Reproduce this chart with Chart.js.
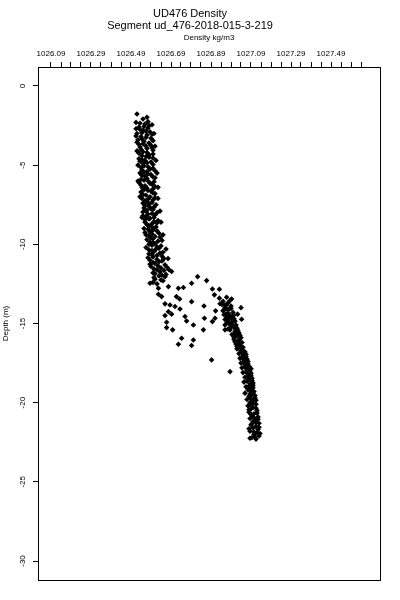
<!DOCTYPE html>
<html lang="en">
<head>
    <meta charset="UTF-8" />
    <meta name="viewport" content="width=device-width, initial-scale=1.0" />
    <script src="https://cdn.jsdelivr.net/npm/chart.js"></script>
    <title>UD476 Density</title>
    <style>
        body {
            margin: 0;
            background: white;
        }
        canvas {
            display: block;
        }
    </style>
</head>
<body>
<canvas id="myChart" width="400" height="600"></canvas>

<script>
    // [depth (m), density (kg/m3)]
    const upperColumn = [
        [-1.77, 1026.52], [-2.08, 1026.55], [-1.97, 1026.57],
        [-2.3, 1026.515], [-2.4, 1026.56], [-2.5, 1026.58], [-2.6, 1026.53], [-2.7, 1026.515],
        [-2.8, 1026.55], [-2.9, 1026.585], [-3.0, 1026.52], [-3.1, 1026.57], [-3.2, 1026.54],
        [-3.3, 1026.59], [-3.4, 1026.525], [-3.5, 1026.555], [-3.6, 1026.58], [-3.7, 1026.53],
        [-3.8, 1026.565], [-3.9, 1026.595], [-4.0, 1026.54], [-4.1, 1026.52], [-4.2, 1026.57],
        [-4.3, 1026.60], [-4.4, 1026.545], [-4.5, 1026.58], [-4.6, 1026.53], [-4.7, 1026.56],
        [-4.8, 1026.59], [-4.9, 1026.55], [-5.0, 1026.525], [-5.1, 1026.575], [-5.2, 1026.60],
        [-5.3, 1026.545], [-5.4, 1026.57], [-5.5, 1026.535], [-5.6, 1026.59], [-5.7, 1026.56],
        [-5.8, 1026.61], [-5.9, 1026.54], [-6.0, 1026.575], [-6.1, 1026.53], [-6.2, 1026.595],
        [-6.3, 1026.56], [-6.4, 1026.545], [-6.5, 1026.60], [-6.6, 1026.575], [-6.7, 1026.54],
        [-6.8, 1026.61], [-6.9, 1026.565], [-7.0, 1026.585], [-7.1, 1026.545], [-7.2, 1026.60],
        [-7.3, 1026.57], [-7.4, 1026.55], [-7.5, 1026.615], [-7.6, 1026.58], [-7.7, 1026.555],
        [-7.8, 1026.60], [-7.9, 1026.565], [-8.0, 1026.62], [-8.1, 1026.575], [-8.2, 1026.55],
        [-8.3, 1026.605], [-8.4, 1026.58], [-8.5, 1026.625], [-8.6, 1026.56], [-8.7, 1026.595],
        [-8.8, 1026.575], [-8.9, 1026.615], [-9.0, 1026.555], [-9.1, 1026.60], [-9.2, 1026.585],
        [-9.3, 1026.63], [-9.4, 1026.565], [-9.5, 1026.61], [-9.6, 1026.59], [-9.7, 1026.57],
        [-9.8, 1026.625], [-9.9, 1026.60], [-10.0, 1026.58], [-10.1, 1026.64], [-10.2, 1026.565],
        [-10.3, 1026.615], [-10.4, 1026.595], [-10.5, 1026.65], [-10.6, 1026.58], [-10.7, 1026.62],
        [-10.8, 1026.60], [-10.9, 1026.655], [-11.0, 1026.585], [-11.1, 1026.63], [-11.2, 1026.61],
        [-11.3, 1026.66], [-11.4, 1026.59], [-11.5, 1026.64], [-11.6, 1026.62], [-11.8, 1026.60],
        [-11.9, 1026.665], [-12.0, 1026.63], [-12.2, 1026.61], [-12.3, 1026.65], [-12.5, 1026.62],
        [-2.25, 1026.575], [-2.35, 1026.535], [-2.45, 1026.595], [-2.55, 1026.555], [-2.65, 1026.575],
        [-2.75, 1026.535], [-2.85, 1026.565], [-2.95, 1026.545], [-3.05, 1026.595], [-3.15, 1026.515],
        [-3.25, 1026.565], [-3.35, 1026.545], [-3.45, 1026.60], [-3.55, 1026.52], [-3.65, 1026.55],
        [-3.75, 1026.59], [-3.85, 1026.535], [-3.95, 1026.57], [-4.05, 1026.60], [-4.15, 1026.55],
        [-4.25, 1026.53], [-4.35, 1026.58], [-4.45, 1026.565], [-4.55, 1026.60], [-4.65, 1026.545],
        [-4.75, 1026.535], [-4.85, 1026.57], [-4.95, 1026.60], [-5.05, 1026.555], [-5.15, 1026.54],
        [-5.25, 1026.585], [-5.35, 1026.61], [-5.45, 1026.555], [-5.55, 1026.575], [-5.65, 1026.545],
        [-5.75, 1026.60], [-5.85, 1026.57], [-5.95, 1026.555], [-6.05, 1026.605], [-6.15, 1026.585],
        [-6.25, 1026.54], [-6.35, 1026.61], [-6.45, 1026.57], [-6.55, 1026.555], [-6.65, 1026.59],
        [-6.75, 1026.60], [-6.85, 1026.55], [-6.95, 1026.54], [-7.05, 1026.61], [-7.15, 1026.575],
        [-7.25, 1026.56], [-7.35, 1026.595], [-7.45, 1026.58], [-7.55, 1026.56], [-7.65, 1026.605],
        [-7.75, 1026.59], [-7.85, 1026.57], [-7.95, 1026.55], [-8.05, 1026.595], [-8.15, 1026.61],
        [-8.25, 1026.565], [-8.35, 1026.585], [-8.45, 1026.56], [-8.55, 1026.605], [-8.65, 1026.62],
        [-8.75, 1026.57], [-8.85, 1026.585], [-8.95, 1026.60], [-9.05, 1026.575], [-9.15, 1026.62],
        [-9.25, 1026.56], [-9.35, 1026.595], [-9.45, 1026.58], [-9.55, 1026.635], [-9.65, 1026.60],
        [-9.75, 1026.645], [-9.85, 1026.585], [-9.95, 1026.61], [-10.05, 1026.595], [-10.15, 1026.62],
        [-10.25, 1026.63], [-10.35, 1026.58], [-10.45, 1026.605], [-10.55, 1026.635], [-10.65, 1026.595],
        [-10.75, 1026.645], [-10.85, 1026.575], [-10.95, 1026.62], [-11.05, 1026.645], [-11.15, 1026.60],
        [-11.25, 1026.585], [-11.35, 1026.625], [-11.45, 1026.67], [-11.55, 1026.605], [-11.65, 1026.655],
        [-11.75, 1026.635], [-11.85, 1026.61], [-11.95, 1026.645], [-12.1, 1026.605], [-12.25, 1026.64],
        [-12.4, 1026.60],
        [-3.0, 1026.605], [-3.8, 1026.61], [-4.7, 1026.615], [-5.5, 1026.62], [-6.4, 1026.625],
        [-7.1, 1026.625], [-7.9, 1026.635], [-8.6, 1026.64], [-9.4, 1026.65], [-10.3, 1026.665],
        [-10.9, 1026.675], [-11.6, 1026.68], [-6.0, 1026.525], [-7.0, 1026.535], [-8.3, 1026.545]
    ];

    const mixedLayer = [
        [-11.72, 1026.693], [-12.04, 1026.66], [-12.46, 1026.585], [-12.04, 1026.823], [-12.46, 1026.793],
        [-12.29, 1026.868], [-12.73, 1026.752], [-12.77, 1026.727], [-12.67, 1026.677], [-12.77, 1026.627],
        [-12.82, 1026.897], [-12.84, 1026.932], [-13.19, 1026.907], [-13.40, 1026.932], [-13.34, 1026.968],
        [-13.45, 1026.993], [-13.30, 1026.643], [-13.15, 1026.627], [-13.30, 1026.717], [-13.45, 1026.733],
        [-13.76, 1026.66], [-13.83, 1026.685], [-13.93, 1026.71], [-13.62, 1026.793], [-13.89, 1026.855],
        [-13.83, 1026.96], [-14.08, 1026.97], [-14.20, 1026.913], [-14.0, 1027.04], [-14.08, 1026.735],
        [-14.25, 1026.677], [-14.50, 1026.66], [-14.41, 1026.693], [-14.56, 1026.76], [-14.84, 1026.768],
        [-14.67, 1026.857], [-14.88, 1026.897], [-14.67, 1026.91], [-14.50, 1027.002], [-14.41, 1027.023],
        [-14.73, 1027.043], [-14.92, 1026.668], [-15.09, 1026.802], [-15.40, 1026.852], [-15.26, 1026.668],
        [-15.40, 1026.698], [-15.09, 1026.96], [-15.40, 1026.96], [-15.93, 1026.743], [-16.31, 1026.727],
        [-16.04, 1026.802], [-16.39, 1026.793], [-17.30, 1026.893], [-18.04, 1026.985]
    ];

    const lowerColumn = [
        [-13.6, 1026.95], [-13.7, 1026.975], [-13.8, 1026.945], [-13.9, 1026.99], [-14.0, 1026.96],
        [-14.1, 1026.98], [-14.2, 1026.95], [-14.3, 1027.0], [-14.4, 1026.965], [-14.5, 1026.985],
        [-14.6, 1026.97], [-14.7, 1027.005], [-14.8, 1026.975], [-14.9, 1026.995], [-15.0, 1026.98],
        [-15.1, 1027.015], [-15.2, 1026.99], [-15.3, 1027.02], [-15.4, 1026.985], [-15.5, 1027.01],
        [-15.6, 1027.03], [-15.7, 1026.995], [-15.8, 1027.02], [-15.9, 1027.04], [-16.0, 1027.005],
        [-16.1, 1027.025], [-16.2, 1027.045], [-16.3, 1027.015], [-16.4, 1027.035], [-16.5, 1027.05],
        [-16.6, 1027.02], [-16.7, 1027.04], [-16.8, 1027.06], [-16.9, 1027.03], [-17.0, 1027.05],
        [-17.1, 1027.065], [-17.2, 1027.035], [-17.3, 1027.055], [-17.4, 1027.075], [-17.5, 1027.04],
        [-17.6, 1027.06], [-17.7, 1027.08], [-17.8, 1027.045], [-17.9, 1027.07], [-18.0, 1027.085],
        [-18.1, 1027.05], [-18.2, 1027.075], [-18.3, 1027.09], [-18.4, 1027.06], [-18.5, 1027.08],
        [-18.6, 1027.095], [-18.7, 1027.055], [-18.8, 1027.085], [-18.9, 1027.1], [-19.0, 1027.065],
        [-19.1, 1027.09], [-19.2, 1027.075], [-19.3, 1027.105], [-19.4, 1027.06], [-19.5, 1027.095],
        [-19.6, 1027.08], [-19.7, 1027.11], [-19.8, 1027.07], [-19.9, 1027.1], [-20.0, 1027.085],
        [-20.1, 1027.115], [-20.2, 1027.075], [-20.3, 1027.1], [-20.4, 1027.09], [-20.5, 1027.12],
        [-20.6, 1027.08], [-20.7, 1027.105], [-20.8, 1027.095], [-20.9, 1027.125], [-21.0, 1027.085],
        [-21.1, 1027.11], [-21.2, 1027.1], [-21.3, 1027.13], [-21.4, 1027.09], [-21.5, 1027.115],
        [-21.6, 1027.1], [-21.7, 1027.125], [-21.8, 1027.085], [-21.9, 1027.12], [-22.0, 1027.105],
        [-22.1, 1027.13], [-22.2, 1027.095], [-22.3, 1027.115],
        [-13.55, 1026.985], [-13.75, 1026.935], [-13.85, 1026.965], [-14.05, 1026.99], [-14.15, 1026.955],
        [-14.35, 1026.975], [-14.45, 1026.955], [-14.65, 1026.99], [-14.75, 1026.96], [-14.85, 1027.01],
        [-14.95, 1026.97], [-15.05, 1026.995], [-15.25, 1027.005], [-15.35, 1026.975], [-15.45, 1027.025],
        [-15.65, 1027.01], [-15.75, 1027.035], [-15.85, 1027.005], [-16.05, 1027.03], [-16.15, 1027.01],
        [-16.25, 1027.025], [-16.45, 1027.02], [-16.55, 1027.04], [-16.75, 1027.055], [-16.85, 1027.045],
        [-16.95, 1027.065], [-17.15, 1027.045], [-17.25, 1027.07], [-17.45, 1027.055], [-17.55, 1027.075],
        [-17.75, 1027.06], [-17.85, 1027.09], [-18.05, 1027.065], [-18.15, 1027.09], [-18.35, 1027.075],
        [-18.45, 1027.095], [-18.65, 1027.07], [-18.75, 1027.1], [-18.95, 1027.08], [-19.05, 1027.1],
        [-19.25, 1027.09], [-19.45, 1027.085], [-19.55, 1027.11], [-19.75, 1027.09], [-19.85, 1027.115],
        [-20.05, 1027.1], [-20.15, 1027.085], [-20.35, 1027.115], [-20.45, 1027.08], [-20.65, 1027.12],
        [-20.75, 1027.09], [-20.95, 1027.105], [-21.05, 1027.125], [-21.25, 1027.115], [-21.35, 1027.095],
        [-21.55, 1027.13], [-21.65, 1027.08], [-21.85, 1027.105], [-21.95, 1027.135], [-22.15, 1027.11],
        [-22.25, 1027.085]
    ];

    // top axis: a tick every 0.05, a label every 0.2
    const densityTicks = [
        1026.09, 1026.14, 1026.19, 1026.24, 1026.29, 1026.34, 1026.39, 1026.44,
        1026.49, 1026.54, 1026.59, 1026.64, 1026.69, 1026.74, 1026.79, 1026.84,
        1026.89, 1026.94, 1026.99, 1027.04, 1027.09, 1027.14, 1027.19, 1027.24,
        1027.29, 1027.34, 1027.39, 1027.44, 1027.49, 1027.54, 1027.59, 1027.64
    ];
    const densityLabels = [
        '1026.09', '', '', '', '1026.29', '', '', '',
        '1026.49', '', '', '', '1026.69', '', '', '',
        '1026.89', '', '', '', '1027.09', '', '', '',
        '1027.29', '', '', '', '1027.49', '', '', ''
    ];
    const depthTicks = [0, -5, -10, -15, -20, -25, -30];
    const depthLabels = ['0', '-5', '-10', '-15', '-20', '-25', '-30'];

    const FONT = 'Liberation Sans, Arial, sans-serif';

    const points = upperColumn.concat(mixedLayer, lowerColumn)
        .map(p => ({x: p[1], y: p[0]}));

    // full box around the plot area
    const boxPlugin = {
        id: 'box',
        afterDraw(chart) {
            const {ctx, chartArea: a} = chart;
            ctx.save();
            ctx.strokeStyle = '#000';
            ctx.lineWidth = 1;
            ctx.strokeRect(Math.round(a.left) + 0.5, Math.round(a.top) + 0.5,
                Math.round(a.right - a.left), Math.round(a.bottom - a.top));
            ctx.restore();
        }
    };

    const ctx = document.getElementById('myChart').getContext('2d');

    const myChart = new Chart(ctx, {
        type: 'scatter',
        data: {
            datasets: [{
                label: 'Density',
                data: points,
                pointStyle: 'rectRot',
                pointRadius: 2.8,
                borderWidth: 0,
                backgroundColor: '#000',
                borderColor: '#000'
            }]
        },
        plugins: [boxPlugin],
        options: {
            responsive: false,
            animation: false,
            layout: {
                padding: {top: 0, left: 0, right: 20, bottom: 20}
            },
            scales: {
                x: {
                    type: 'linear',
                    position: 'top',
                    min: 1026.025,
                    max: 1027.735,
                    afterBuildTicks: (scale) => {
                        scale.ticks = densityTicks.map(v => ({value: v}));
                    },
                    afterFit: (scale) => {
                        scale.height = 35;
                    },
                    ticks: {
                        autoSkip: false,
                        maxRotation: 0,
                        padding: 3,
                        color: '#000',
                        font: {family: FONT, size: 8},
                        callback: (value, index) => densityLabels[index]
                    },
                    grid: {
                        drawOnChartArea: false,
                        drawTicks: true,
                        tickLength: 5,
                        tickColor: '#000',
                        color: '#000'
                    },
                    border: {display: false},
                    title: {
                        display: true,
                        text: 'Density kg/m3',
                        color: '#000',
                        padding: {top: 1, bottom: 0},
                        font: {family: FONT, size: 8}
                    }
                },
                y: {
                    type: 'linear',
                    min: -31.2,
                    max: 1.2,
                    afterBuildTicks: (scale) => {
                        scale.ticks = depthTicks.map(v => ({value: v}));
                    },
                    afterFit: (scale) => {
                        scale.width = 38;
                    },
                    ticks: {
                        autoSkip: false,
                        minRotation: 90,
                        maxRotation: 90,
                        crossAlign: 'center',
                        padding: 4,
                        color: '#000',
                        font: {family: FONT, size: 8},
                        callback: (value, index) => depthLabels[index]
                    },
                    grid: {
                        drawOnChartArea: false,
                        drawTicks: true,
                        tickLength: 5,
                        tickColor: '#000',
                        color: '#000'
                    },
                    border: {display: false},
                    title: {
                        display: true,
                        text: 'Depth (m)',
                        color: '#000',
                        padding: {top: 1, bottom: 0},
                        font: {family: FONT, size: 8}
                    }
                }
            },
            plugins: {
                legend: {display: false},
                tooltip: {enabled: false},
                title: {
                    display: true,
                    text: 'UD476 Density',
                    color: '#000',
                    padding: {top: 8, bottom: 0},
                    font: {family: FONT, size: 11, weight: 'normal', lineHeight: '12px'}
                },
                subtitle: {
                    display: true,
                    text: 'Segment ud_476-2018-015-3-219',
                    color: '#000',
                    padding: {top: 0, bottom: 0},
                    font: {family: FONT, size: 11, weight: 'normal', lineHeight: '12px'}
                }
            }
        }
    });
</script>
</body>
</html>
